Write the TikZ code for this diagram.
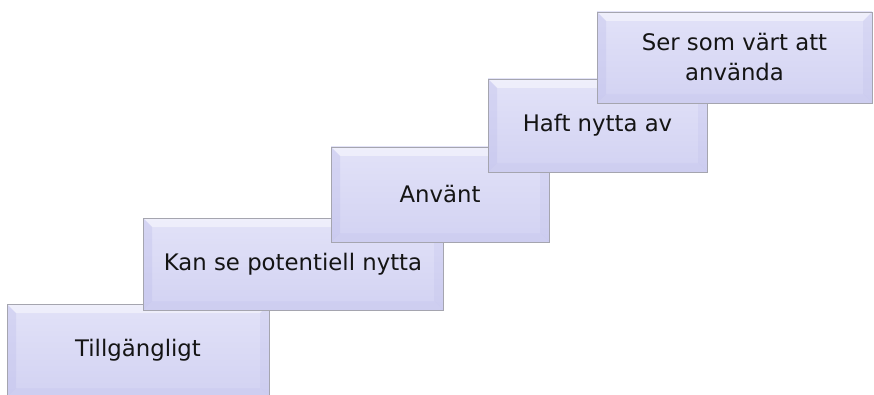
\documentclass[tikz,border=0pt]{standalone}
\usepackage{fontspec}
\setmainfont{DejaVu Sans}
\definecolor{tierfill}{RGB}{214,214,243}
\definecolor{tiertop}{RGB}{226,226,248}
\definecolor{tierbot}{RGB}{210,210,242}
\definecolor{tieredge}{RGB}{165,165,175}
\definecolor{tierside}{RGB}{190,190,235}
\definecolor{tiertext}{RGB}{20,20,20}
\tikzset{
	tier/.style={rectangle, draw=tieredge, line width=0.7pt, inner sep=0pt,
		top color=tiertop, bottom color=tierbot, text=tiertext,
		font=\fontsize{22.8}{30}\selectfont, align=center,
		path picture={
			\fill[white, opacity=0.45] (path picture bounding box.north west) -- (path picture bounding box.north east) -- ([xshift=-9pt,yshift=-9pt]path picture bounding box.north east) -- ([xshift=9pt,yshift=-9pt]path picture bounding box.north west) -- cycle;
			\fill[tierside, opacity=0.35] (path picture bounding box.north west) -- ([xshift=9pt,yshift=-9pt]path picture bounding box.north west) -- ([xshift=9pt,yshift=9pt]path picture bounding box.south west) -- (path picture bounding box.south west) -- cycle;
			\fill[tierside, opacity=0.25] (path picture bounding box.north east) -- ([xshift=-9pt,yshift=-9pt]path picture bounding box.north east) -- ([xshift=-9pt,yshift=9pt]path picture bounding box.south east) -- (path picture bounding box.south east) -- cycle;
			\fill[tierside, opacity=0.2] (path picture bounding box.south west) -- ([xshift=9pt,yshift=9pt]path picture bounding box.south west) -- ([xshift=-9pt,yshift=9pt]path picture bounding box.south east) -- (path picture bounding box.south east) -- cycle;
		}},
}

\begin{document}
\begin{tikzpicture}[x=1pt, y=1pt]
	\useasboundingbox (0,0) rectangle (874,394);
	
	\node[tier, minimum width=262pt, minimum height=93pt] at (138,43.5) (avail) {Tillgängligt};
	\node[tier, minimum width=300pt, minimum height=92pt] at (293,130) (potential) {Kan se potentiell nytta};
	\node[tier, minimum width=218pt, minimum height=95pt] at (440,199.5) (used) {Använt};
	\node[tier, minimum width=219pt, minimum height=93pt] at (597.5,268.5) (benefit) {Haft nytta av};
	\node[tier, minimum width=275pt, minimum height=91pt] at (734.5,336.5) (worth) {Ser som värt att\\använda};
	
\end{tikzpicture}
\end{document}
